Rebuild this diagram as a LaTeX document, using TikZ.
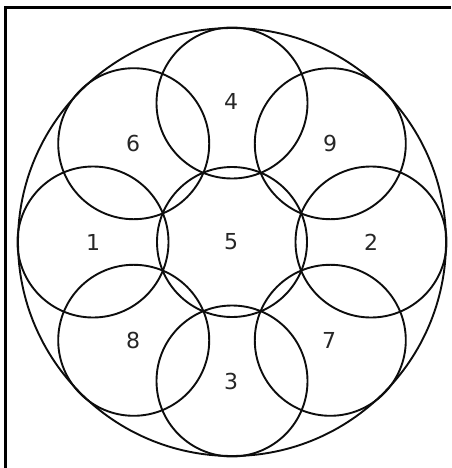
\documentclass[tikz,border=0pt]{standalone}
\usepackage{fontspec}
\setmainfont{DejaVu Sans}
\usetikzlibrary{calc}
\begin{document}
\begin{tikzpicture}[x=1pt,y=-1pt,
  ring/.style={draw=black!95,line width=1.9pt},
  frameline/.style={draw=black,line width=3.5pt},
  num/.style={font=\fontsize{22}{25}\selectfont,text=black!85,inner sep=0pt}]
\useasboundingbox (0,0) rectangle (451,468);
\draw[frameline] (5.3,468) -- (5.3,7.5) -- (451,7.5);
\coordinate (c) at (232,242);
\draw[ring] (c) circle[radius=214];
\draw[ring] (c) circle[radius=75];
\foreach \a in {0,45,...,315}{
  \draw[ring] ($(c)+(\a:139)$) circle[radius=75.5];
}
\node[num] (n4) at (231,101) {4};
\node[num] (n6) at (133,143) {6};
\node[num] (n9) at (330,143) {9};
\node[num] (n1) at (93,242) {1};
\node[num] (n5) at (231,242) {5};
\node[num] (n2) at (371,242) {2};
\node[num] (n8) at (133,340) {8};
\node[num] (n7) at (329,340) {7};
\node[num] (n3) at (231,381) {3};
\end{tikzpicture}
\end{document}
